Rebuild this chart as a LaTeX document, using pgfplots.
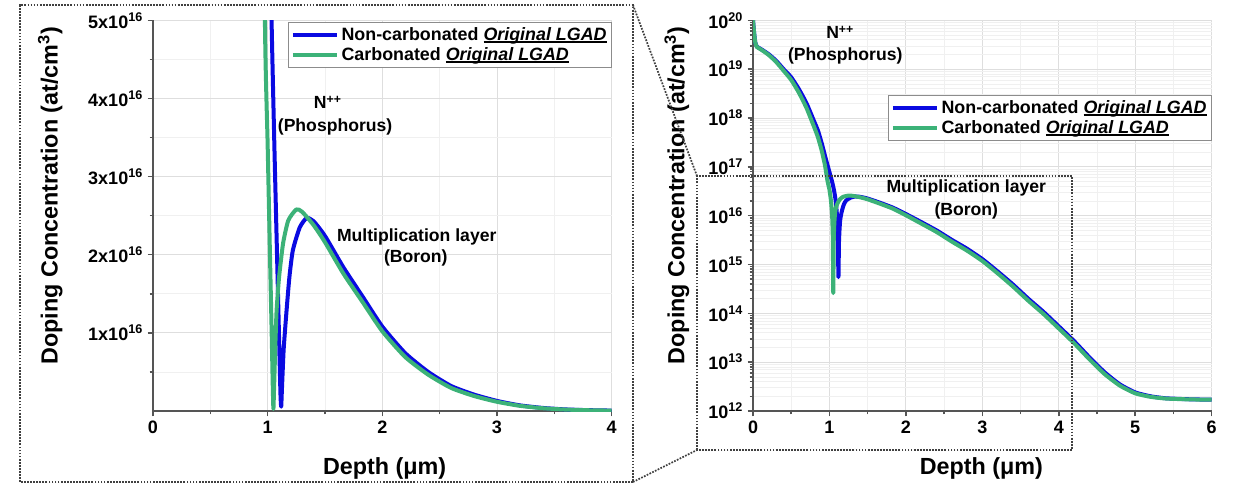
\documentclass[border=0pt]{standalone}
\usepackage{pgfplots}
\pgfplotsset{compat=1.18}
\usepackage{pgfplotstable}
\usepackage{fontspec}
\setmainfont{Liberation Sans}

\definecolor{cblue}{RGB}{10,10,225}
\definecolor{cgreen}{RGB}{60,178,120}
\definecolor{axgray}{RGB}{85,85,85}

\newcommand\ul[1]{\setbox0\hbox{#1}\rlap{\rule[-1.7pt]{\wd0}{1.1pt}}\box0}

% Non-carbonated Original LGAD
\pgfplotstableread{
x y
0.000 1.0e20
0.015 5.5e19
0.030 3.5e19
0.050 2.9e19
0.100 2.6e19
0.200 2.05e19
0.300 1.5e19
0.400 1.0e19
0.500 6.8e18
0.600 3.9e18
0.700 2.0e18
0.800 8.5e17
0.850 5.5e17
0.900 3.0e17
0.950 1.5e17
1.000 7.8e16
1.034 5.0e16
1.060 3.3e16
1.080 2.1e16
1.095 1.2e16
1.105 6.0e15
1.112 2.0e15
1.118 5.5e14
1.125 3.0e15
1.140 8.0e15
1.165 1.29e16
1.190 1.72e16
1.220 2.06e16
1.280 2.35e16
1.340 2.47e16
1.400 2.43e16
1.500 2.24e16
1.660 1.84e16
1.830 1.46e16
2.000 1.08e16
2.200 7.4e15
2.400 5.0e15
2.600 3.2e15
2.800 2.1e15
3.000 1.29e15
3.200 7.2e14
3.400 3.9e14
3.600 2.0e14
3.800 1.07e14
4.000 5.4e13
4.200 2.7e13
4.400 1.26e13
4.600 6.2e12
4.800 3.5e12
5.000 2.4e12
5.200 2.0e12
5.400 1.82e12
5.700 1.74e12
6.000 1.70e12
}\noncarb

% Carbonated Original LGAD
\pgfplotstableread{
x y
0.000 1.0e20
0.015 5.5e19
0.030 3.5e19
0.050 2.85e19
0.100 2.55e19
0.200 1.98e19
0.300 1.42e19
0.400 9.3e18
0.500 6.0e18
0.600 3.3e18
0.700 1.6e18
0.800 6.5e17
0.850 4.0e17
0.900 2.1e17
0.940 1.1e17
0.976 5.0e16
1.000 3.4e16
1.020 2.0e16
1.035 1.0e16
1.044 3.5e15
1.050 2.6e14
1.056 3.0e15
1.065 7.5e15
1.078 1.29e16
1.100 1.72e16
1.135 2.15e16
1.180 2.44e16
1.250 2.58e16
1.300 2.55e16
1.400 2.38e16
1.500 2.16e16
1.660 1.76e16
1.830 1.39e16
2.000 1.02e16
2.200 6.9e15
2.400 4.65e15
2.600 2.95e15
2.800 1.92e15
3.000 1.18e15
3.200 6.6e14
3.400 3.55e14
3.600 1.82e14
3.800 9.7e13
4.000 4.9e13
4.200 2.45e13
4.400 1.15e13
4.600 5.7e12
4.800 3.3e12
5.000 2.3e12
5.200 1.95e12
5.400 1.80e12
5.700 1.73e12
6.000 1.70e12
}\carb

\pgfplotsset{
  lgad/.style={
    scale only axis,
    width=344pt, height=293pt,
    axis x line*=bottom, axis y line*=left,
    axis line style={-, axgray, line width=1.5pt},
    tick style={axgray, line width=1.1pt},
    tick align=outside,
    major tick length=4pt, minor tick length=2.5pt,
    grid=both,
    major grid style={black!13, line width=0.6pt},
    minor grid style={black!6, line width=0.5pt},
    /pgf/number format/assume math mode=true,
    ticklabel style={font=\bfseries\fontsize{13.5}{15}\selectfont},
    label style={font=\bfseries\fontsize{17.5}{19}\selectfont},
    legend cell align=left,
    legend style={font=\bfseries\fontsize{13.4}{15}\selectfont,
      draw=black!45, line width=0.6pt, fill=white, inner sep=1.5pt, row sep=0pt},
    legend image code/.code={\draw[#1, line width=3pt] (0pt,0pt) -- (33pt,0pt);},
    clip=true,
  },
  curve/.style={line width=3pt, line join=round, smooth, tension=0.35},
}
\tikzset{ann/.style={font=\bfseries\fontsize{13.2}{15}\selectfont, anchor=center, inner sep=0pt}}

\begin{document}
\begin{tikzpicture}
\useasboundingbox (0,0) rectangle (927pt,364.5pt);

% ---------- left: linear zoom ----------
\begin{axis}[lgad,
  at={(114.75pt,56.25pt)}, anchor=south west,
  xmin=0, xmax=4, ymin=0, ymax=5e16,
  xtick={0,1,2,3,4}, minor xtick={0.5,1.5,2.5,3.5},
  ytick={1e16,2e16,3e16,4e16,5e16},
  yticklabels={1x10\textsuperscript{16},2x10\textsuperscript{16},3x10\textsuperscript{16},4x10\textsuperscript{16},5x10\textsuperscript{16}},
  minor ytick={0.5e16,1.5e16,2.5e16,3.5e16,4.5e16},
  scaled y ticks=false,
  restrict x to domain=0.85:4.1,
  xlabel={Depth (μm)},
  ylabel={Doping Concentration (at/cm\textsuperscript{3})},
  xlabel style={at={(axis description cs:0.505,-0.148)}, anchor=center},
  ylabel style={at={(axis description cs:-0.224,0.551)}, anchor=center},
  legend style={at={(axis description cs:1.0,0.995)}, anchor=north east},
]
\addplot[cblue, curve] table[x=x,y=y] {\noncarb};
\addlegendentry{Non-carbonated \ul{\textit{Original LGAD}}}
\addplot[cgreen, curve] table[x=x,y=y] {\carb};
\addlegendentry{Carbonated \ul{\textit{Original LGAD}}}
\node[ann] at (axis description cs:0.381,0.790) {N\textsuperscript{++}};
\node[ann] at (axis description cs:0.397,0.726) {(Phosphorus)};
\node[ann] at (axis description cs:0.575,0.445) {Multiplication layer};
\node[ann] at (axis description cs:0.573,0.391) {(Boron)};
\end{axis}

% ---------- right: log full profile ----------
\begin{axis}[lgad,
  at={(564.75pt,56.25pt)}, anchor=south west,
  ymode=log, log basis y=10,
  xmin=0, xmax=6, ymin=1e12, ymax=1e20,
  xtick={0,1,2,3,4,5,6}, minor xtick={0.5,1.5,2.5,3.5,4.5,5.5},
  ytick={1e12,1e13,1e14,1e15,1e16,1e17,1e18,1e19,1e20},
  yticklabels={10\textsuperscript{12},10\textsuperscript{13},10\textsuperscript{14},10\textsuperscript{15},10\textsuperscript{16},10\textsuperscript{17},10\textsuperscript{18},10\textsuperscript{19},10\textsuperscript{20}},
  minor ytick={2e12,3e12,4e12,5e12,6e12,7e12,8e12,9e12,
               2e13,3e13,4e13,5e13,6e13,7e13,8e13,9e13,
               2e14,3e14,4e14,5e14,6e14,7e14,8e14,9e14,
               2e15,3e15,4e15,5e15,6e15,7e15,8e15,9e15,
               2e16,3e16,4e16,5e16,6e16,7e16,8e16,9e16,
               2e17,3e17,4e17,5e17,6e17,7e17,8e17,9e17,
               2e18,3e18,4e18,5e18,6e18,7e18,8e18,9e18,
               2e19,3e19,4e19,5e19,6e19,7e19,8e19,9e19},
  xlabel={Depth (μm)},
  ylabel={Doping Concentration (at/cm\textsuperscript{3})},
  xlabel style={at={(axis description cs:0.498,-0.148)}, anchor=center},
  ylabel style={at={(axis description cs:-0.166,0.552)}, anchor=center},
  legend style={at={(axis description cs:1.0,0.808)}, anchor=north east},
]
\addplot[cblue, curve] table[x=x,y=y] {\noncarb};
\addlegendentry{Non-carbonated \ul{\textit{Original LGAD}}}
\addplot[cgreen, curve] table[x=x,y=y] {\carb};
\addlegendentry{Carbonated \ul{\textit{Original LGAD}}}
\node[ann] at (axis description cs:0.190,0.969) {N\textsuperscript{++}};
\node[ann] at (axis description cs:0.201,0.908) {(Phosphorus)};
\node[ann] at (axis description cs:0.465,0.572) {Multiplication layer};
\node[ann] at (axis description cs:0.465,0.511) {(Boron)};
\end{axis}

% ---------- zoom frames ----------
\begin{scope}[black!75, line width=1.3pt, densely dotted]
\draw (15pt,3pt) rectangle (474.75pt,360.75pt);
\draw (522.75pt,27pt) rectangle (804pt,232.5pt);
\draw (474.75pt,360.75pt) -- (522.75pt,232.5pt);
\draw (474.75pt,3pt) -- (522.75pt,27pt);
\end{scope}
\end{tikzpicture}
\end{document}
